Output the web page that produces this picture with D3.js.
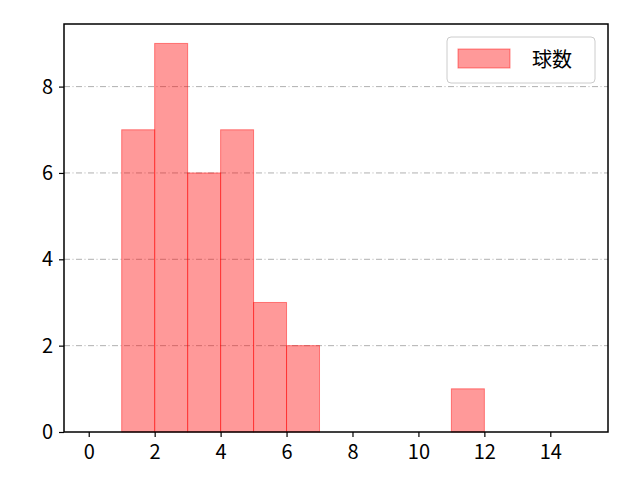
<!DOCTYPE html>
<html><head><meta charset="utf-8">
<script src="https://cdn.jsdelivr.net/npm/d3@7"></script>
<style>body{margin:0;background:#fff}svg{display:block}text{font-family:"Noto Sans CJK JP","Noto Sans",sans-serif}</style>
</head><body>
<script>
const binStarts = [1,2,3,4,5,6,11];
const binEnds   = [2,3,4,5,6,7,12];
const counts    = [7,9,6,7,3,2,1];
const xTicks = [0,2,4,6,8,10,12,14];
const yTicks = [0,2,4,6,8];
const seriesName = "球数";

const W=640,H=480, L=64, R=608, T=24, B=432;
const svg=d3.select("body").append("svg").attr("width",W).attr("height",H);
const x=d3.scaleLinear().domain([-0.75,15.75]).range([L,R]);
const y=d3.scaleLinear().domain([0,9.45]).range([B,T]);

// grid
svg.append("g").selectAll("line").data(yTicks.filter(d=>d>0)).join("line")
 .attr("x1",L).attr("x2",R).attr("y1",d=>y(d)).attr("y2",d=>y(d))
 .attr("stroke","#a8a8a8").attr("stroke-width",0.9).attr("stroke-dasharray","6,2.5,1,2.5");

// bars
svg.append("g").selectAll("rect").data(counts).join("rect")
 .attr("x",(d,i)=>x(binStarts[i])).attr("width",(d,i)=>x(binEnds[i])-x(binStarts[i]))
 .attr("y",d=>y(d)).attr("height",d=>y(0)-y(d))
 .attr("fill","rgba(255,0,0,0.4)").attr("stroke","rgba(255,0,0,0.45)").attr("stroke-width",1);

// axes
const xa=svg.append("g").attr("transform",`translate(0,${B})`).call(d3.axisBottom(x).tickValues(xTicks).tickSize(5).tickPadding(8).tickFormat(d3.format("d")));
const ya=svg.append("g").attr("transform",`translate(${L},0)`).call(d3.axisLeft(y).tickValues(yTicks).tickSize(5).tickPadding(6).tickFormat(d3.format("d")));
[xa,ya].forEach(a=>{a.select(".domain").remove();a.selectAll("line").attr("stroke","#000").attr("stroke-width",1.2);a.selectAll("text").attr("font-size",20).attr("fill","#000");});
svg.append("rect").attr("x",L).attr("y",T).attr("width",R-L).attr("height",B-T).attr("fill","none").attr("stroke","#000").attr("stroke-width",1.5);

// legend
const lg=svg.append("g");
lg.append("rect").attr("x",447).attr("y",37).attr("width",148).attr("height",46).attr("rx",4)
 .attr("fill","#fff").attr("fill-opacity",0.8).attr("stroke","#ccc").attr("stroke-width",1);
lg.append("rect").attr("x",458).attr("y",49).attr("width",52).attr("height",19)
 .attr("fill","rgba(255,0,0,0.4)").attr("stroke","rgba(255,0,0,0.45)");
lg.append("text").attr("x",532).attr("y",67).attr("font-size",20).attr("fill","#000").text(seriesName);
</script>
</body></html>
